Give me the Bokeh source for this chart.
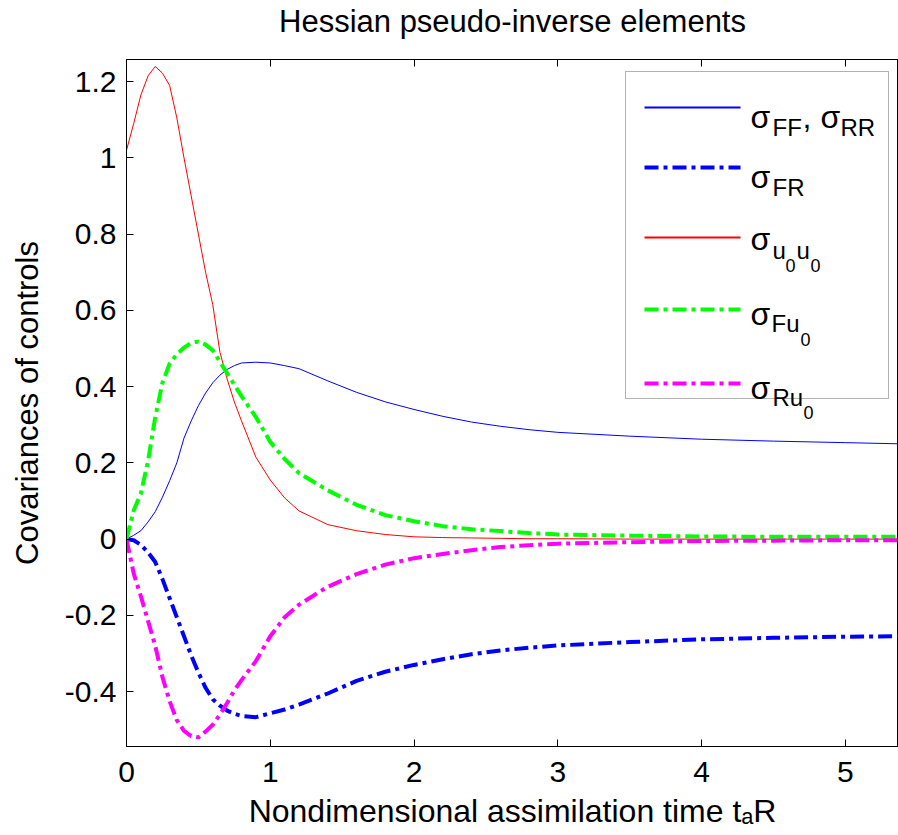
from bokeh.plotting import figure
from bokeh.models import (Range1d, FixedTicker, CustomJSTickFormatter, LinearAxis,
                          Label, Arrow, BoxAnnotation)
from bokeh.embed import file_html
from bokeh.resources import INLINE

# ---------------- data ----------------
t = [0, 0.05, 0.1, 0.15, 0.2, 0.25, 0.3, 0.35, 0.4, 0.45, 0.5, 0.55, 0.6, 0.65,
     0.7, 0.75, 0.8, 0.9, 1.0, 1.1, 1.2, 1.4, 1.6, 1.8, 2.0, 2.2, 2.4, 2.6, 2.8,
     3.0, 3.5, 4.0, 4.5, 5.0, 5.37]

sigma_ff_rr = [0, 0.01, 0.022, 0.045, 0.072, 0.11, 0.153, 0.2, 0.265, 0.31, 0.35,
               0.383, 0.41, 0.43, 0.445, 0.455, 0.462, 0.464, 0.462, 0.455, 0.447,
               0.415, 0.385, 0.36, 0.34, 0.322, 0.307, 0.296, 0.287, 0.28, 0.27,
               0.262, 0.257, 0.253, 0.25]

sigma_fr = [0, -0.003, -0.015, -0.035, -0.06, -0.105, -0.155, -0.205, -0.255,
            -0.305, -0.35, -0.39, -0.42, -0.437, -0.45, -0.458, -0.464, -0.467,
            -0.457, -0.447, -0.434, -0.405, -0.372, -0.348, -0.33, -0.315, -0.302,
            -0.292, -0.285, -0.279, -0.27, -0.263, -0.259, -0.256, -0.255]

sigma_u0u0 = [1.02, 1.09, 1.165, 1.215, 1.24, 1.222, 1.19, 1.105, 1.0, 0.9, 0.8,
              0.7, 0.615, 0.49, 0.42, 0.36, 0.31, 0.215, 0.155, 0.108, 0.074,
              0.038, 0.022, 0.012, 0.006, 0.004, 0.003, 0.002, 0.001, 0.001, 0,
              0, 0, 0, 0]

sigma_fu0 = [0, 0.075, 0.12, 0.205, 0.32, 0.41, 0.46, 0.485, 0.502, 0.515, 0.518,
             0.51, 0.495, 0.465, 0.435, 0.405, 0.375, 0.32, 0.255, 0.21, 0.173,
             0.128, 0.09, 0.063, 0.047, 0.034, 0.026, 0.021, 0.016, 0.012, 0.009,
             0.007, 0.006, 0.006, 0.006]

sigma_ru0 = [0, -0.09, -0.15, -0.215, -0.28, -0.362, -0.425, -0.475, -0.503,
             -0.517, -0.52, -0.505, -0.487, -0.46, -0.43, -0.397, -0.37, -0.32,
             -0.255, -0.205, -0.172, -0.125, -0.092, -0.067, -0.05, -0.039,
             -0.029, -0.021, -0.016, -0.012, -0.008, -0.005, -0.004, -0.003, -0.003]

x_ticks = [0, 1, 2, 3, 4, 5]
y_ticks = [-0.4, -0.2, 0, 0.2, 0.4, 0.6, 0.8, 1, 1.2]

TITLE = "Hessian pseudo-inverse elements"
YLABEL = "Covariances of controls"
XLABEL = "Nondimensional assimilation time t\u2090R"

FONT = "Liberation Sans"
BLUE, RED, GREEN, MAGENTA = "#0000FF", "#FF0000", "#00FF00", "#FF00FF"
DASHDOT = "14 5 4 5"

X0, X1 = 0, 5.37
Y0, Y1 = -0.544, 1.258

# ---------------- figure ----------------
p = figure(width=898, height=835, output_backend="svg", toolbar_location=None,
           x_range=Range1d(X0, X1), y_range=Range1d(Y0, Y1),
           min_border_left=126, min_border_right=0, min_border_top=59,
           min_border_bottom=89)
p.grid.visible = False
p.outline_line_color = "black"
p.outline_line_width = 1
p.background_fill_color = "white"
p.border_fill_color = "white"

for ax in (p.xaxis[0], p.yaxis[0]):
    ax.major_label_text_font = FONT
    ax.major_label_text_font_size = "30px"
    ax.major_label_text_color = "black"
    ax.major_tick_in = 7
    ax.major_tick_out = 0
    ax.minor_tick_line_color = None
    ax.axis_line_color = "black"
    ax.major_tick_line_color = "black"
    ax.axis_label_text_font = FONT
    ax.axis_label_text_font_size = "31px"
    ax.axis_label_text_font_style = "normal"
    ax.axis_label_text_color = "black"

p.xaxis[0].ticker = FixedTicker(ticks=x_ticks)
p.xaxis[0].major_label_standoff = 15
p.xaxis[0].axis_label = XLABEL
p.xaxis[0].axis_label_text_font_size = "32px"
p.xaxis[0].axis_label_standoff = 8
p.yaxis[0].ticker = FixedTicker(ticks=y_ticks)
p.yaxis[0].formatter = CustomJSTickFormatter(code="return String(Math.round(tick*10)/10)")
p.yaxis[0].major_label_standoff = 10
p.yaxis[0].axis_label = YLABEL
p.yaxis[0].axis_label_standoff = 17

# top box edge with inward ticks; its label carries the chart title
top = LinearAxis(ticker=FixedTicker(ticks=x_ticks), major_tick_in=7, major_tick_out=0,
                 minor_tick_line_color=None,
                 formatter=CustomJSTickFormatter(code="return ''"),
                 major_label_text_font_size="1px", major_label_standoff=0,
                 axis_line_color="black", major_tick_line_color="black",
                 axis_label=TITLE, axis_label_text_font=FONT,
                 axis_label_text_font_size="31px", axis_label_text_font_style="normal",
                 axis_label_text_color="black", axis_label_standoff=21)
p.add_layout(top, "above")

# ---------------- series ----------------
p.line(t, sigma_ff_rr, line_color=BLUE, line_width=1)
p.line(t, sigma_fr, line_color=BLUE, line_width=4, line_dash=DASHDOT)
p.line(t, sigma_u0u0, line_color=RED, line_width=1)
p.line(t, sigma_fu0, line_color=GREEN, line_width=4, line_dash=DASHDOT)
p.line(t, sigma_ru0, line_color=MAGENTA, line_width=4, line_dash=DASHDOT)

# ---------------- legend (frame-relative screen px) ----------------
FL, FB = 126, 746   # frame left / bottom on the page

def fx(X):
    return X - FL

def fy(Y):
    return FB - Y

p.add_layout(BoxAnnotation(left=fx(625), right=fx(888), top=fy(71), bottom=fy(398),
                           left_units="screen", right_units="screen",
                           top_units="screen", bottom_units="screen",
                           fill_color="white", fill_alpha=1,
                           line_color="black", line_width=1))

key_styles = [(BLUE, 2, "solid", 107), (BLUE, 4, DASHDOT, 167), (RED, 2, "solid", 237),
              (GREEN, 4, DASHDOT, 309), (MAGENTA, 4, DASHDOT, 383)]
for color, w, dash, L in key_styles:
    p.add_layout(Arrow(x_start=fx(644), y_start=fy(L), x_end=fx(740), y_end=fy(L),
                       start_units="screen", end_units="screen", start=None, end=None,
                       line_color=color, line_width=w, line_dash=dash))

def txt(s, X, Y, size):
    p.add_layout(Label(x=fx(X), y=fy(Y), x_units="screen", y_units="screen", text=s,
                       text_font=FONT, text_font_size=f"{size}px", text_color="black",
                       text_baseline="alphabetic", text_align="left"))

S, S1, S2 = 32, 24, 18
# sigma_FF, sigma_RR
txt("σ", 750, 116, S); txt("FF", 772, 127, S1); txt(",", 802, 116, S)
txt("σ", 820, 116, S); txt("RR", 840, 127, S1)
# sigma_FR
txt("σ", 750, 176, S); txt("FR", 772, 187, S1)
# sigma_u0u0
txt("σ", 750, 238, S); txt("u", 772, 250, S1); txt("0", 785, 265, S2)
txt("u", 796, 250, S1); txt("0", 810, 265, S2)
# sigma_Fu0
txt("σ", 750, 313, S); txt("Fu", 771, 323, S1); txt("0", 800, 339, S2)
# sigma_Ru0
txt("σ", 750, 387, S); txt("Ru", 772, 397, S1); txt("0", 803, 412, S2)

open("out.html", "w").write(file_html(p, INLINE))
